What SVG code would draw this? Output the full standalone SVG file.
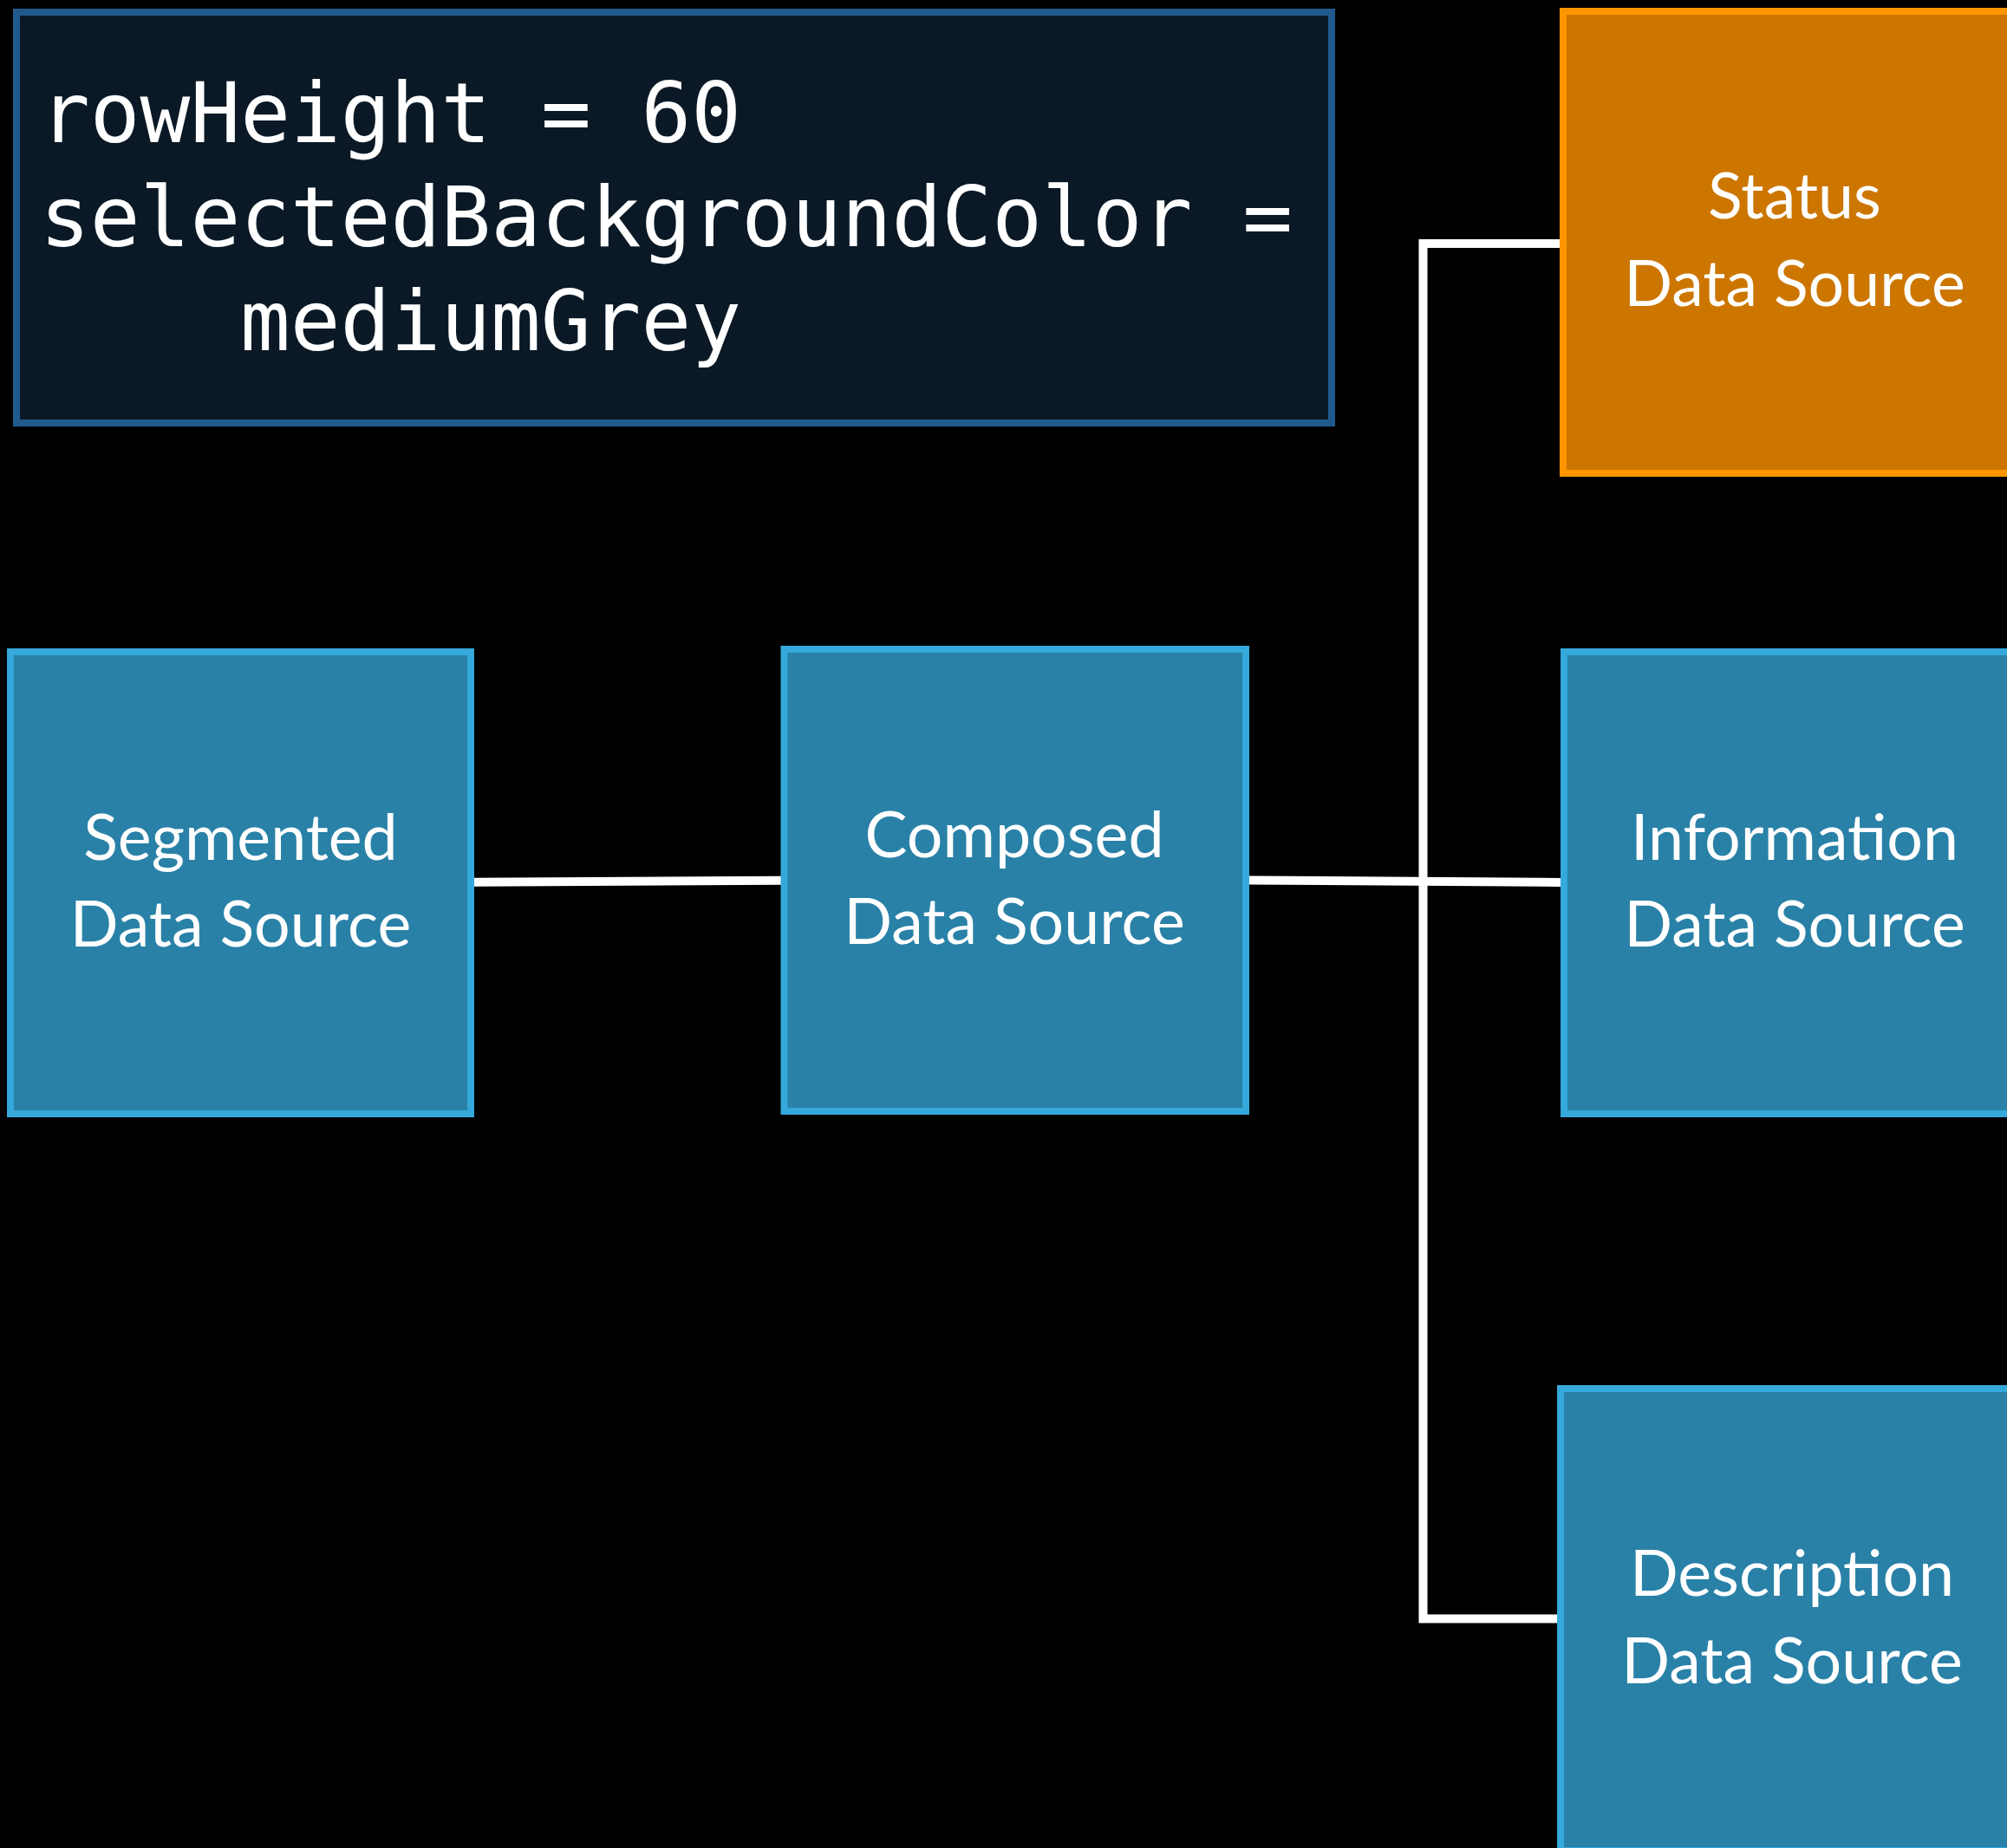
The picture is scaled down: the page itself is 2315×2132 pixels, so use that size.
<svg xmlns="http://www.w3.org/2000/svg" width="2315" height="2132" viewBox="0 0 2315 2132">
<style>
.bg{fill:#000}
.code{fill:#0a1925;stroke:#205a8c;stroke-width:8}
.codetxt{font-family:"DejaVu Sans Mono","Liberation Mono",monospace;font-size:96px;fill:#fff}
.blue{fill:#2981a7;stroke:#35a8dc;stroke-width:8}
.orange{fill:#cc7600;stroke:#ff9600;stroke-width:8}
.lbl{font-family:Lato,"Open Sans",sans-serif;font-size:73.5px;fill:#fff;text-anchor:middle}
.conn{fill:none;stroke:#fff;stroke-width:10}
</style>
<rect class="bg" x="0" y="0" width="2315" height="2132"/>
<g id="code-note">
<rect class="code" x="19" y="14" width="1517" height="474"/>
<text class="codetxt" x="46" y="164">rowHeight = 60</text>
<text class="codetxt" x="46" y="284">selectedBackgroundColor =</text>
<text class="codetxt" x="277" y="404">mediumGrey</text>
</g>
<g id="connectors">
<path class="conn" d="M547 1017.7 L902 1015.7"/>
<path class="conn" d="M1441 1015.5 L1800 1018"/>
<path class="conn" d="M1800 281 H1641.5 V1867.6 H1798"/>
</g>
<g id="status">
<rect class="orange" x="1803" y="13" width="540" height="533"/>
<text class="lbl" x="2070" y="252">Status</text>
<text class="lbl" x="2070" y="353">Data Source</text>
</g>
<g id="segmented">
<rect class="blue" x="12" y="752" width="531" height="533"/>
<text class="lbl" x="277.5" y="992">Segmented</text>
<text class="lbl" x="277.5" y="1092">Data Source</text>
</g>
<g id="composed">
<rect class="blue" x="904.5" y="749" width="532.5" height="533"/>
<text class="lbl" x="1170" y="989">Composed</text>
<text class="lbl" x="1170" y="1089">Data Source</text>
</g>
<g id="information">
<rect class="blue" x="1804" y="752" width="540" height="533"/>
<text class="lbl" x="2070" y="992">Information</text>
<text class="lbl" x="2070" y="1092">Data Source</text>
</g>
<g id="description">
<rect class="blue" x="1800" y="1602" width="540" height="533"/>
<text class="lbl" x="2067" y="1841">Description</text>
<text class="lbl" x="2067" y="1942">Data Source</text>
</g>
</svg>
